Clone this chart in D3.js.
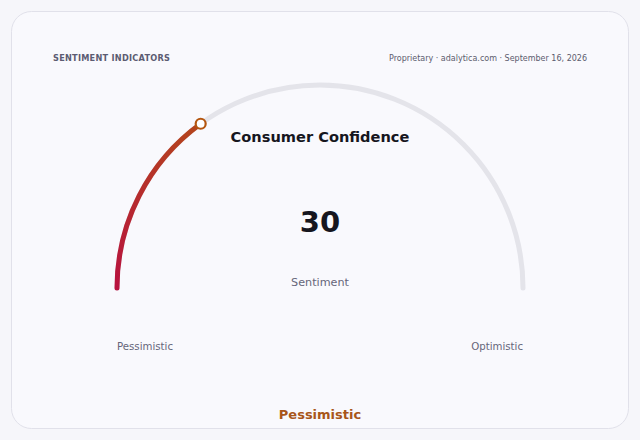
<!DOCTYPE html>
<html>
<head>
<meta charset="utf-8">
<script src="https://cdn.jsdelivr.net/npm/d3@7"></script>
<style>
  html, body { margin: 0; padding: 0; background: #f6f6fa; }
  body { width: 640px; height: 440px; overflow: hidden; font-family: "DejaVu Sans", sans-serif; }
</style>
</head>
<body>
<div id="chart"></div>
<script>
var indicatorNames = ["Consumer Confidence"];
var indicatorValues = [30];
var gaugeDomain = [0, 100];
var endLabels = ["Pessimistic", "Optimistic"];
var valueLabel = "Sentiment";
var statusLabels = ["Pessimistic"];
var headerLeft = "SENTIMENT INDICATORS";
var headerRight = "Proprietary · adalytica.com · September 16, 2026";

var svgWidth = 640;
var svgHeight = 440;

var svg = d3.select("#chart")
  .append("svg")
  .attr("width", svgWidth)
  .attr("height", svgHeight);

// card
svg.append("rect")
  .attr("x", 11.5)
  .attr("y", 11.5)
  .attr("width", 617)
  .attr("height", 417)
  .attr("rx", 20)
  .attr("fill", "#f9f9fd")
  .attr("stroke", "#e1e1ea");

svg.append("text")
  .attr("x", 53)
  .attr("y", 61)
  .attr("font-size", 8.2)
  .attr("font-weight", "bold")
  .attr("letter-spacing", 0.25)
  .attr("fill", "#5c5c72")
  .text(headerLeft);

svg.append("text")
  .attr("x", 587)
  .attr("y", 61)
  .attr("text-anchor", "end")
  .attr("font-size", 8)
  .attr("fill", "#5c5c6e")
  .text(headerRight);

var cx = 320, cy = 288, radius = 203;

var angle = d3.scaleLinear()
  .domain(gaugeDomain)
  .range([-Math.PI / 2, Math.PI / 2]);

var g = svg.append("g")
  .attr("transform", `translate(${cx}, ${cy})`);

var arcLine = function(a0, a1) {
  var path = d3.path();
  path.arc(0, 0, radius, a0 - Math.PI / 2, a1 - Math.PI / 2);
  return path.toString();
};

// track
g.append("path")
  .attr("d", arcLine(angle(gaugeDomain[0]), angle(gaugeDomain[1])))
  .attr("fill", "none")
  .attr("stroke", "#e4e4ea")
  .attr("stroke-width", 5)
  .attr("stroke-linecap", "round");

var value = indicatorValues[0];
var endAngle = angle(value);
var px = radius * Math.sin(endAngle);
var py = -radius * Math.cos(endAngle);

var defs = svg.append("defs");
var grad = defs.append("linearGradient")
  .attr("id", "valueGrad")
  .attr("gradientUnits", "userSpaceOnUse")
  .attr("x1", -radius).attr("y1", 0)
  .attr("x2", px).attr("y2", py);
grad.append("stop").attr("offset", "0%").attr("stop-color", "#b8123f");
grad.append("stop").attr("offset", "100%").attr("stop-color", "#b4461c");

g.append("path")
  .attr("d", arcLine(angle(gaugeDomain[0]), endAngle))
  .attr("fill", "none")
  .attr("stroke", "url(#valueGrad)")
  .attr("stroke-width", 5)
  .attr("stroke-linecap", "round");

g.append("circle")
  .attr("cx", px)
  .attr("cy", py)
  .attr("r", 5)
  .attr("fill", "#ffffff")
  .attr("stroke", "#b4560f")
  .attr("stroke-width", 2.2);

svg.append("text")
  .attr("x", cx)
  .attr("y", 142)
  .attr("text-anchor", "middle")
  .attr("font-size", 14.6)
  .attr("font-weight", "bold")
  .attr("fill", "#16161e")
  .text(indicatorNames[0]);

svg.append("text")
  .attr("x", cx)
  .attr("y", 232)
  .attr("text-anchor", "middle")
  .attr("font-size", 29)
  .attr("font-weight", "bold")
  .attr("fill", "#16161e")
  .text(value);

svg.append("text")
  .attr("x", cx)
  .attr("y", 286)
  .attr("text-anchor", "middle")
  .attr("font-size", 11.2)
  .attr("fill", "#66667a")
  .text(valueLabel);

svg.append("text")
  .attr("x", cx - radius)
  .attr("y", 350)
  .attr("font-size", 10.2)
  .attr("fill", "#66667a")
  .text(endLabels[0]);

svg.append("text")
  .attr("x", cx + radius)
  .attr("y", 350)
  .attr("text-anchor", "end")
  .attr("font-size", 10.2)
  .attr("fill", "#66667a")
  .text(endLabels[1]);

svg.append("text")
  .attr("x", cx)
  .attr("y", 419)
  .attr("text-anchor", "middle")
  .attr("font-size", 13)
  .attr("font-weight", "bold")
  .attr("fill", "#a8561a")
  .text(statusLabels[0]);
</script>
</body>
</html>
